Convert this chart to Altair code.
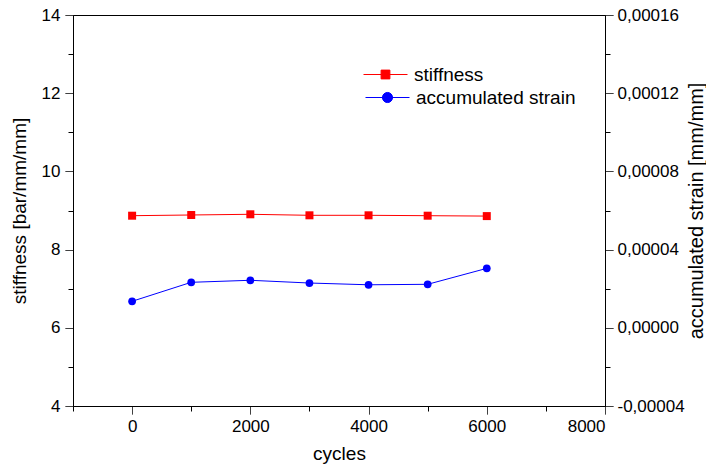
import altair as alt
import pandas as pd

# ---- data ----
cycles = [0, 1000, 2000, 3000, 4000, 5000, 6000]
stiffness = [8.867, 8.885, 8.903, 8.877, 8.877, 8.867, 8.857]
strain = [1.355e-5, 2.327e-5, 2.43e-5, 2.29e-5, 2.20e-5, 2.225e-5, 3.04e-5]
series_names = ["stiffness", "accumulated strain"]
series_colors = ["#ff0000", "#0000ff"]

x_ticks = list(range(-1000, 8001, 1000))
left_ticks = list(range(4, 15))
right_ticks = [round(-0.00004 + i * 0.00002, 6) for i in range(11)]

df = pd.DataFrame({
    "cycles": cycles,
    "stiffness": stiffness,
    "strain": strain,
    "s1": [series_names[0]] * len(cycles),
    "s2": [series_names[1]] * len(cycles),
})

FONT = "Liberation Sans"
MINOR_DASH = [5, 30]

def dash_cond(test):
    return {"condition": {"test": test, "value": [1, 0]}, "value": MINOR_DASH}

x_major = "datum.value % 2000 === 0"
x = alt.X(
    "cycles:Q",
    scale=alt.Scale(domain=[-1000, 8000], nice=False, zero=False),
    axis=alt.Axis(
        title="cycles",
        values=x_ticks,
        format="d",
        labelExpr="(" + x_major + ") ? datum.label : ''",
        tickSize=8,
        tickDash=dash_cond(x_major),
        labelPadding=4,
        titlePadding=10,
        titleFontSize=19,
    ),
)

l_major = "datum.value % 2 === 0"
yL = alt.Y(
    "stiffness:Q",
    scale=alt.Scale(domain=[4, 14], nice=False, zero=False),
    axis=alt.Axis(
        title="stiffness [bar/mm/mm]",
        orient="left",
        values=left_ticks,
        labelExpr="(" + l_major + ") ? datum.label : ''",
        tickSize=8,
        tickDash=dash_cond(l_major),
        labelPadding=5,
        titlePadding=12,
        titleFontSize=19,
    ),
)

r_major = "abs(datum.value * 25000 - round(datum.value * 25000)) < 0.01"
yR = alt.Y(
    "strain:Q",
    scale=alt.Scale(domain=[-0.00004, 0.00016], nice=False, zero=False),
    axis=alt.Axis(
        title="accumulated strain [mm/mm]",
        orient="right",
        values=right_ticks,
        labelExpr="(" + r_major + ") ? replace(replace(format(datum.value, '.5f'), '.', ','), '\u2212', '-') : ''",
        tickSize=8,
        tickDash=dash_cond(r_major),
        labelPadding=4,
        titlePadding=22,
        titleAngle=270,
        titleFontSize=20,
    ),
)

sq_path = "M-1,0H1M-0.2,-0.2H0.2V0.2H-0.2Z"
ci_path = "M-1,0H1M0.23,0A0.23,0.23,0,1,1,-0.23,0A0.23,0.23,0,1,1,0.23,0Z"

base = alt.Chart(df)

stiff = alt.layer(
    base.mark_line(color=series_colors[0], strokeWidth=1).encode(x=x, y=yL),
    base.mark_point(shape="square", filled=True, size=64, opacity=1).encode(
        x=x, y=yL,
        color=alt.Color(
            "s1:N",
            scale=alt.Scale(domain=[series_names[0]], range=[series_colors[0]]),
            legend=alt.Legend(
                title=None, orient="none", legendX=290, legendY=37,
                symbolType=sq_path, symbolSize=1936, symbolStrokeColor=series_colors[0],
                symbolStrokeWidth=1, labelFontSize=19, labelFont=FONT, labelOffset=6,
                labelColor="black",
            ),
        ),
    ),
)

strn = alt.layer(
    base.mark_line(color=series_colors[1], strokeWidth=1).encode(x=x, y=yR),
    base.mark_point(shape="circle", filled=True, size=60, opacity=1).encode(
        x=x, y=yR,
        color=alt.Color(
            "s2:N",
            scale=alt.Scale(domain=[series_names[1]], range=[series_colors[1]]),
            legend=alt.Legend(
                title=None, orient="none", legendX=292, legendY=60,
                symbolType=ci_path, symbolSize=1936, symbolStrokeColor=series_colors[1],
                symbolStrokeWidth=1, labelFontSize=19, labelFont=FONT, labelOffset=6,
                labelColor="black",
            ),
        ),
    ),
)

chart = (
    alt.layer(stiff, strn)
    .resolve_scale(y="independent", color="independent")
    .properties(
        width=532,
        height=391,
        autosize=alt.AutoSizeParams(type="none"),
        padding={"left": 65, "top": 7, "right": 101, "bottom": 59},
    )
    .configure_view(stroke="black", strokeWidth=1)
    .configure_axis(
        grid=False,
        domainColor="black",
        tickColor="black",
        labelColor="black",
        titleColor="black",
        labelFont=FONT,
        titleFont=FONT,
        labelFontSize=17,
        titleFontWeight="normal",
        domainWidth=1,
        tickWidth=1,
    )
    .configure_legend(labelFont=FONT)
)

chart.save("out.html", embed_options={"renderer": "svg", "actions": False})
